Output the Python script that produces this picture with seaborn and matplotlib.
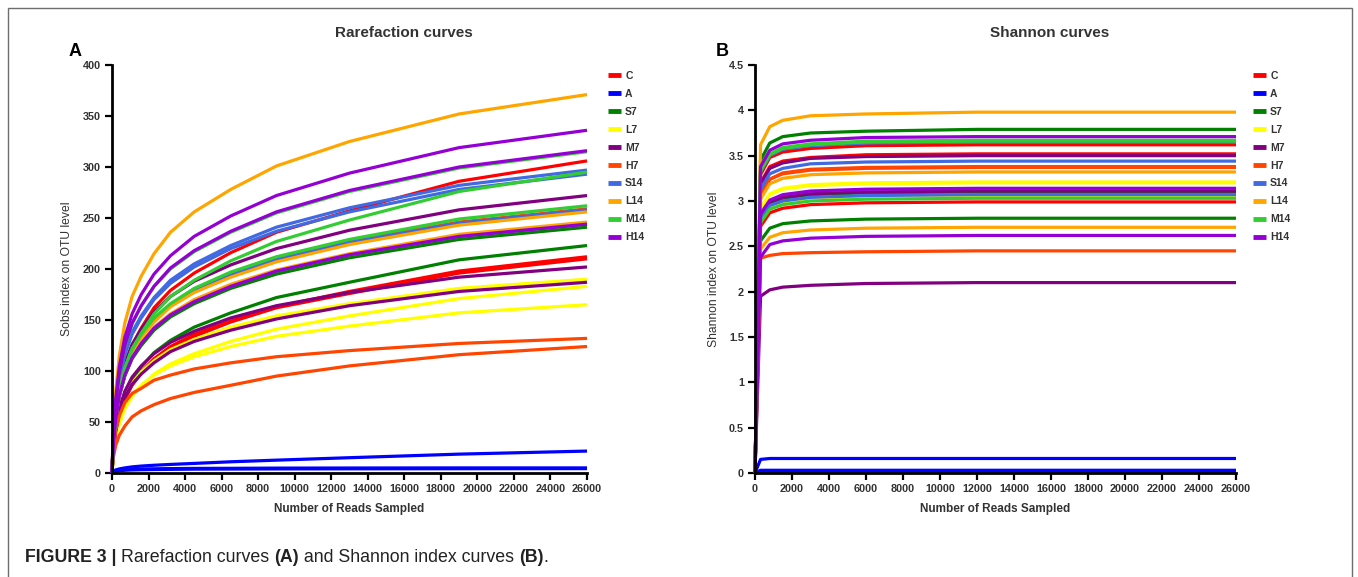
import pandas as pd
import matplotlib
matplotlib.use('Agg')
import matplotlib.pyplot as plt
from matplotlib.lines import Line2D
from matplotlib.patches import Rectangle
import seaborn as sns

sns.set_style('ticks')
plt.rcParams['font.family'] = ['Liberation Sans', 'DejaVu Sans']

groups = ['C', 'A', 'S7', 'L7', 'M7', 'H7', 'S14', 'L14', 'M14', 'H14']
colors = ['#FF0000', '#0000FF', '#008000', '#FFFF00', '#800080',
          '#FF4500', '#4169E1', '#FFA500', '#32CD32', '#9400D3']

# Panel A - observed OTUs (Sobs), three replicates per group
sobs_reads = [0, 60, 200, 400, 700, 1100, 1600, 2300, 3200, 4500, 6500, 9000, 13000, 19000, 26000]
sobs_C = [[0, 24, 55, 81, 106, 125, 142, 162, 179, 196, 216, 236, 257, 286, 306],
          [0, 17, 38, 56, 73, 87, 99, 112, 124, 136, 149, 163, 178, 198, 212],
          [0, 17, 38, 56, 72, 86, 98, 111, 123, 134, 148, 162, 176, 196, 210]]
sobs_A = [[0, 1.5, 3, 4, 5, 6, 6.8, 7.6, 8.4, 9.4, 11, 12.6, 15, 18.5, 21.5],
          [0, 1.2, 2.2, 2.8, 3.3, 3.7, 3.9, 4.1, 4.3, 4.5, 4.6, 4.8, 4.9, 5, 5],
          [0, 1, 1.8, 2.3, 2.7, 3, 3.2, 3.4, 3.6, 3.8, 3.9, 4, 4.1, 4.2, 4.3]]
sobs_S7 = [[0, 24, 52, 76, 96, 113, 127, 142, 155, 168, 183, 198, 214, 232, 244],
           [0, 24, 52, 75, 95, 112, 125, 140, 153, 166, 181, 195, 211, 229, 241],
           [0, 18, 40, 59, 77, 91, 104, 118, 130, 143, 157, 172, 187, 209, 223]]
sobs_L7 = [[0, 19, 41, 59, 75, 88, 99, 110, 121, 131, 143, 154, 166, 181, 190],
           [0, 15, 33, 48, 63, 75, 85, 97, 107, 117, 129, 141, 154, 171, 183],
           [0, 17, 35, 51, 65, 77, 86, 96, 105, 114, 124, 134, 144, 157, 165]]
sobs_M7 = [[0, 27, 58, 84, 107, 126, 141, 158, 173, 188, 204, 220, 238, 258, 272],
           [0, 20, 43, 63, 80, 94, 105, 117, 128, 139, 152, 164, 177, 192, 202],
           [0, 19, 40, 58, 74, 87, 97, 108, 119, 129, 140, 151, 164, 178, 187]]
sobs_H7 = [[0, 26, 56, 80, 102, 120, 135, 150, 164, 179, 194, 210, 227, 246, 259],
           [0, 20, 42, 56, 69, 78, 83, 91, 96, 102, 108, 114, 120, 127, 132],
           [0, 14, 27, 37, 46, 55, 61, 67, 73, 79, 86, 95, 105, 116, 124]]
sobs_S14 = [[0, 30, 64, 92, 117, 138, 154, 172, 189, 205, 223, 241, 260, 282, 297],
            [0, 29, 63, 91, 116, 136, 152, 170, 186, 202, 220, 237, 256, 278, 293],
            [0, 26, 55, 80, 102, 120, 134, 150, 164, 178, 194, 209, 226, 245, 258]]
sobs_L14 = [[0, 37, 80, 115, 147, 173, 193, 215, 236, 256, 278, 301, 325, 352, 371],
            [0, 26, 55, 79, 101, 119, 133, 148, 163, 177, 192, 207, 224, 243, 256],
            [0, 25, 53, 76, 97, 114, 128, 143, 156, 170, 185, 199, 215, 234, 246]]
sobs_M14 = [[0, 32, 68, 98, 124, 146, 164, 183, 200, 217, 236, 255, 276, 299, 315],
            [0, 24, 53, 78, 102, 121, 137, 156, 173, 189, 208, 227, 248, 276, 295],
            [0, 26, 56, 81, 103, 122, 136, 152, 166, 181, 197, 212, 229, 249, 262]]
sobs_H14 = [[0, 34, 72, 104, 133, 156, 175, 195, 213, 232, 252, 272, 294, 319, 336],
            [0, 32, 68, 98, 125, 147, 164, 183, 201, 218, 237, 256, 277, 300, 316],
            [0, 24, 52, 76, 96, 113, 127, 142, 155, 168, 183, 198, 214, 232, 244]]

# Panel B - Shannon index
shan_reads = [0, 300, 800, 1500, 3000, 6000, 12000, 26000]
shan_C = [[0, 3.29, 3.48, 3.54, 3.58, 3.61, 3.62, 3.62],
          [0, 3.20, 3.38, 3.44, 3.48, 3.51, 3.52, 3.52],
          [0, 2.72, 2.87, 2.92, 2.96, 2.98, 2.99, 2.99]]
shan_A = [[0, 0.15, 0.16, 0.16, 0.16, 0.16, 0.16, 0.16],
          [0, 0.03, 0.03, 0.03, 0.03, 0.03, 0.03, 0.03],
          [0, 0.02, 0.02, 0.02, 0.02, 0.02, 0.02, 0.02]]
shan_S7 = [[0, 3.45, 3.64, 3.71, 3.75, 3.77, 3.79, 3.79],
           [0, 2.82, 2.98, 3.03, 3.07, 3.09, 3.10, 3.10],
           [0, 2.56, 2.70, 2.75, 2.78, 2.80, 2.81, 2.81]]
shan_L7 = [[0, 2.92, 3.08, 3.14, 3.18, 3.20, 3.21, 3.21],
           [0, 2.91, 3.07, 3.13, 3.17, 3.19, 3.20, 3.20],
           [0, 2.78, 2.94, 2.99, 3.03, 3.05, 3.06, 3.06]]
shan_M7 = [[0, 3.19, 3.36, 3.42, 3.47, 3.49, 3.50, 3.50],
           [0, 2.83, 2.99, 3.04, 3.08, 3.10, 3.11, 3.11],
           [0, 1.95, 2.02, 2.05, 2.07, 2.09, 2.10, 2.10]]
shan_H7 = [[0, 3.08, 3.24, 3.31, 3.35, 3.37, 3.38, 3.38],
           [0, 3.07, 3.24, 3.30, 3.34, 3.36, 3.37, 3.37],
           [0, 2.37, 2.40, 2.42, 2.43, 2.44, 2.45, 2.45]]
shan_S14 = [[0, 3.32, 3.50, 3.57, 3.61, 3.64, 3.65, 3.65],
            [0, 3.13, 3.30, 3.36, 3.41, 3.43, 3.44, 3.44],
            [0, 2.79, 2.95, 3.00, 3.04, 3.06, 3.07, 3.07]]
shan_L14 = [[0, 3.62, 3.82, 3.89, 3.94, 3.96, 3.98, 3.98],
            [0, 3.02, 3.19, 3.25, 3.29, 3.31, 3.32, 3.32],
            [0, 2.47, 2.60, 2.65, 2.68, 2.70, 2.71, 2.71]]
shan_M14 = [[0, 3.34, 3.52, 3.59, 3.63, 3.66, 3.67, 3.67],
            [0, 3.33, 3.51, 3.58, 3.62, 3.65, 3.66, 3.66],
            [0, 2.76, 2.91, 2.96, 3.00, 3.02, 3.03, 3.03]]
shan_H14 = [[0, 3.38, 3.56, 3.63, 3.67, 3.70, 3.71, 3.71],
            [0, 2.86, 3.01, 3.07, 3.11, 3.13, 3.14, 3.14],
            [0, 2.38, 2.52, 2.56, 2.59, 2.61, 2.62, 2.62]]

sobs_all = [sobs_C, sobs_A, sobs_S7, sobs_L7, sobs_M7, sobs_H7,
            sobs_S14, sobs_L14, sobs_M14, sobs_H14]
shan_all = [shan_C, shan_A, shan_S7, shan_L7, shan_M7, shan_H7,
            shan_S14, shan_L14, shan_M14, shan_H14]


def long_table(reads, curves):
    rows = []
    for g, reps in zip(groups, curves):
        for i, ys in enumerate(reps):
            for x, y in zip(reads, ys):
                rows.append((g, f'{g}_{i}', x, y))
    return pd.DataFrame(rows, columns=['group', 'rep', 'reads', 'value'])


W, H = 1358, 577
fig = plt.figure(figsize=(W / 100, H / 100), dpi=100)
palette = dict(zip(groups, colors))
txt = '#333333'

# outer frame of the figure
fig.patches.append(Rectangle((8 / W, -0.05), 1344 / W, 1.05 - 8 / H, transform=fig.transFigure,
                             fill=False, edgecolor='#6e6e6e', lw=1.0))

panels = [
    dict(left=112, right=587, data=sobs_all, reads=sobs_reads, ylim=400, ystep=50,
         ylabel='Sobs index on OTU level', title='Rarefaction curves', tx=404,
         letter='A', lx=75, legx=608),
    dict(left=755, right=1236, data=shan_all, reads=shan_reads, ylim=4.5, ystep=0.5,
         ylabel='Shannon index on OTU level', title='Shannon curves', tx=1050,
         letter='B', lx=722, legx=1253),
]

for p in panels:
    ax = fig.add_axes([p['left'] / W, (H - 473) / H, (p['right'] - p['left']) / W, 408 / H])
    df = long_table(p['reads'], p['data'])
    sns.lineplot(data=df, x='reads', y='value', hue='group', units='rep', estimator=None,
                 hue_order=groups, palette=palette, lw=2.3, sort=False, legend=False, ax=ax)
    for ln in ax.lines:
        ln.set_clip_on(False)
        ln.set_solid_capstyle('butt')
        ln.set_solid_joinstyle('round')
    ax.set_xlim(0, 26000)
    ax.set_ylim(0, p['ylim'])
    ax.set_xticks(range(0, 26001, 2000))
    nticks = int(round(p['ylim'] / p['ystep'])) + 1
    yt = [i * p['ystep'] for i in range(nticks)]
    ax.set_yticks(yt)
    ax.set_yticklabels([f'{v:g}' for v in yt])
    sns.despine(ax=ax)
    for s in ['left', 'bottom']:
        ax.spines[s].set_linewidth(2.0)
        ax.spines[s].set_color('black')
    ax.tick_params(axis='both', direction='out', length=5, width=1.6, color='black',
                   labelsize=7.8, labelcolor=txt, pad=3)
    for lab in ax.get_xticklabels() + ax.get_yticklabels():
        lab.set_fontweight('bold')
    ax.set_xlabel('Number of Reads Sampled', fontsize=8.5, fontweight='bold', color=txt)
    ax.set_ylabel(p['ylabel'], fontsize=8.7, color=txt)
    ax.xaxis.set_label_coords(0.5, -30 / 408)
    ax.yaxis.set_label_coords((p['lx'] - 2 - p['left']) / (p['right'] - p['left']), 0.5)

    fig.text(p['tx'] / W, 1 - 33 / H, p['title'], ha='center', va='center',
             fontsize=11, fontweight='bold', color=txt)
    fig.text(p['lx'] / W, 1 - 52 / H, p['letter'], ha='center', va='center',
             fontsize=13, fontweight='bold', color='black')

    handles = [Line2D([], [], color=c, lw=3.5, solid_capstyle='butt') for c in colors]
    ax.legend(handles, groups, loc='upper left', bbox_to_anchor=(p['legx'] / W, 1 - 71 / H),
              bbox_transform=fig.transFigure, frameon=False, borderpad=0, borderaxespad=0,
              handlelength=1.2, handletextpad=0.45, labelspacing=0.76,
              prop={'size': 7.5, 'weight': 'bold'}, labelcolor=txt)

# caption made of bold and regular pieces
pieces = [('FIGURE 3 | ', 'bold'), ('Rarefaction curves ', 'normal'), ('(A)', 'bold'),
          (' and Shannon index curves ', 'normal'), ('(B)', 'bold'), ('.', 'normal')]
fig.canvas.draw()
renderer = fig.canvas.get_renderer()
x = 25
for s, wt in pieces:
    t = fig.text(x / W, 1 - 557 / H, s, ha='left', va='center', fontsize=12.8,
                 fontweight=wt, color='#222222')
    bb = t.get_window_extent(renderer)
    x += bb.width

fig.savefig('out.png', dpi=100)
